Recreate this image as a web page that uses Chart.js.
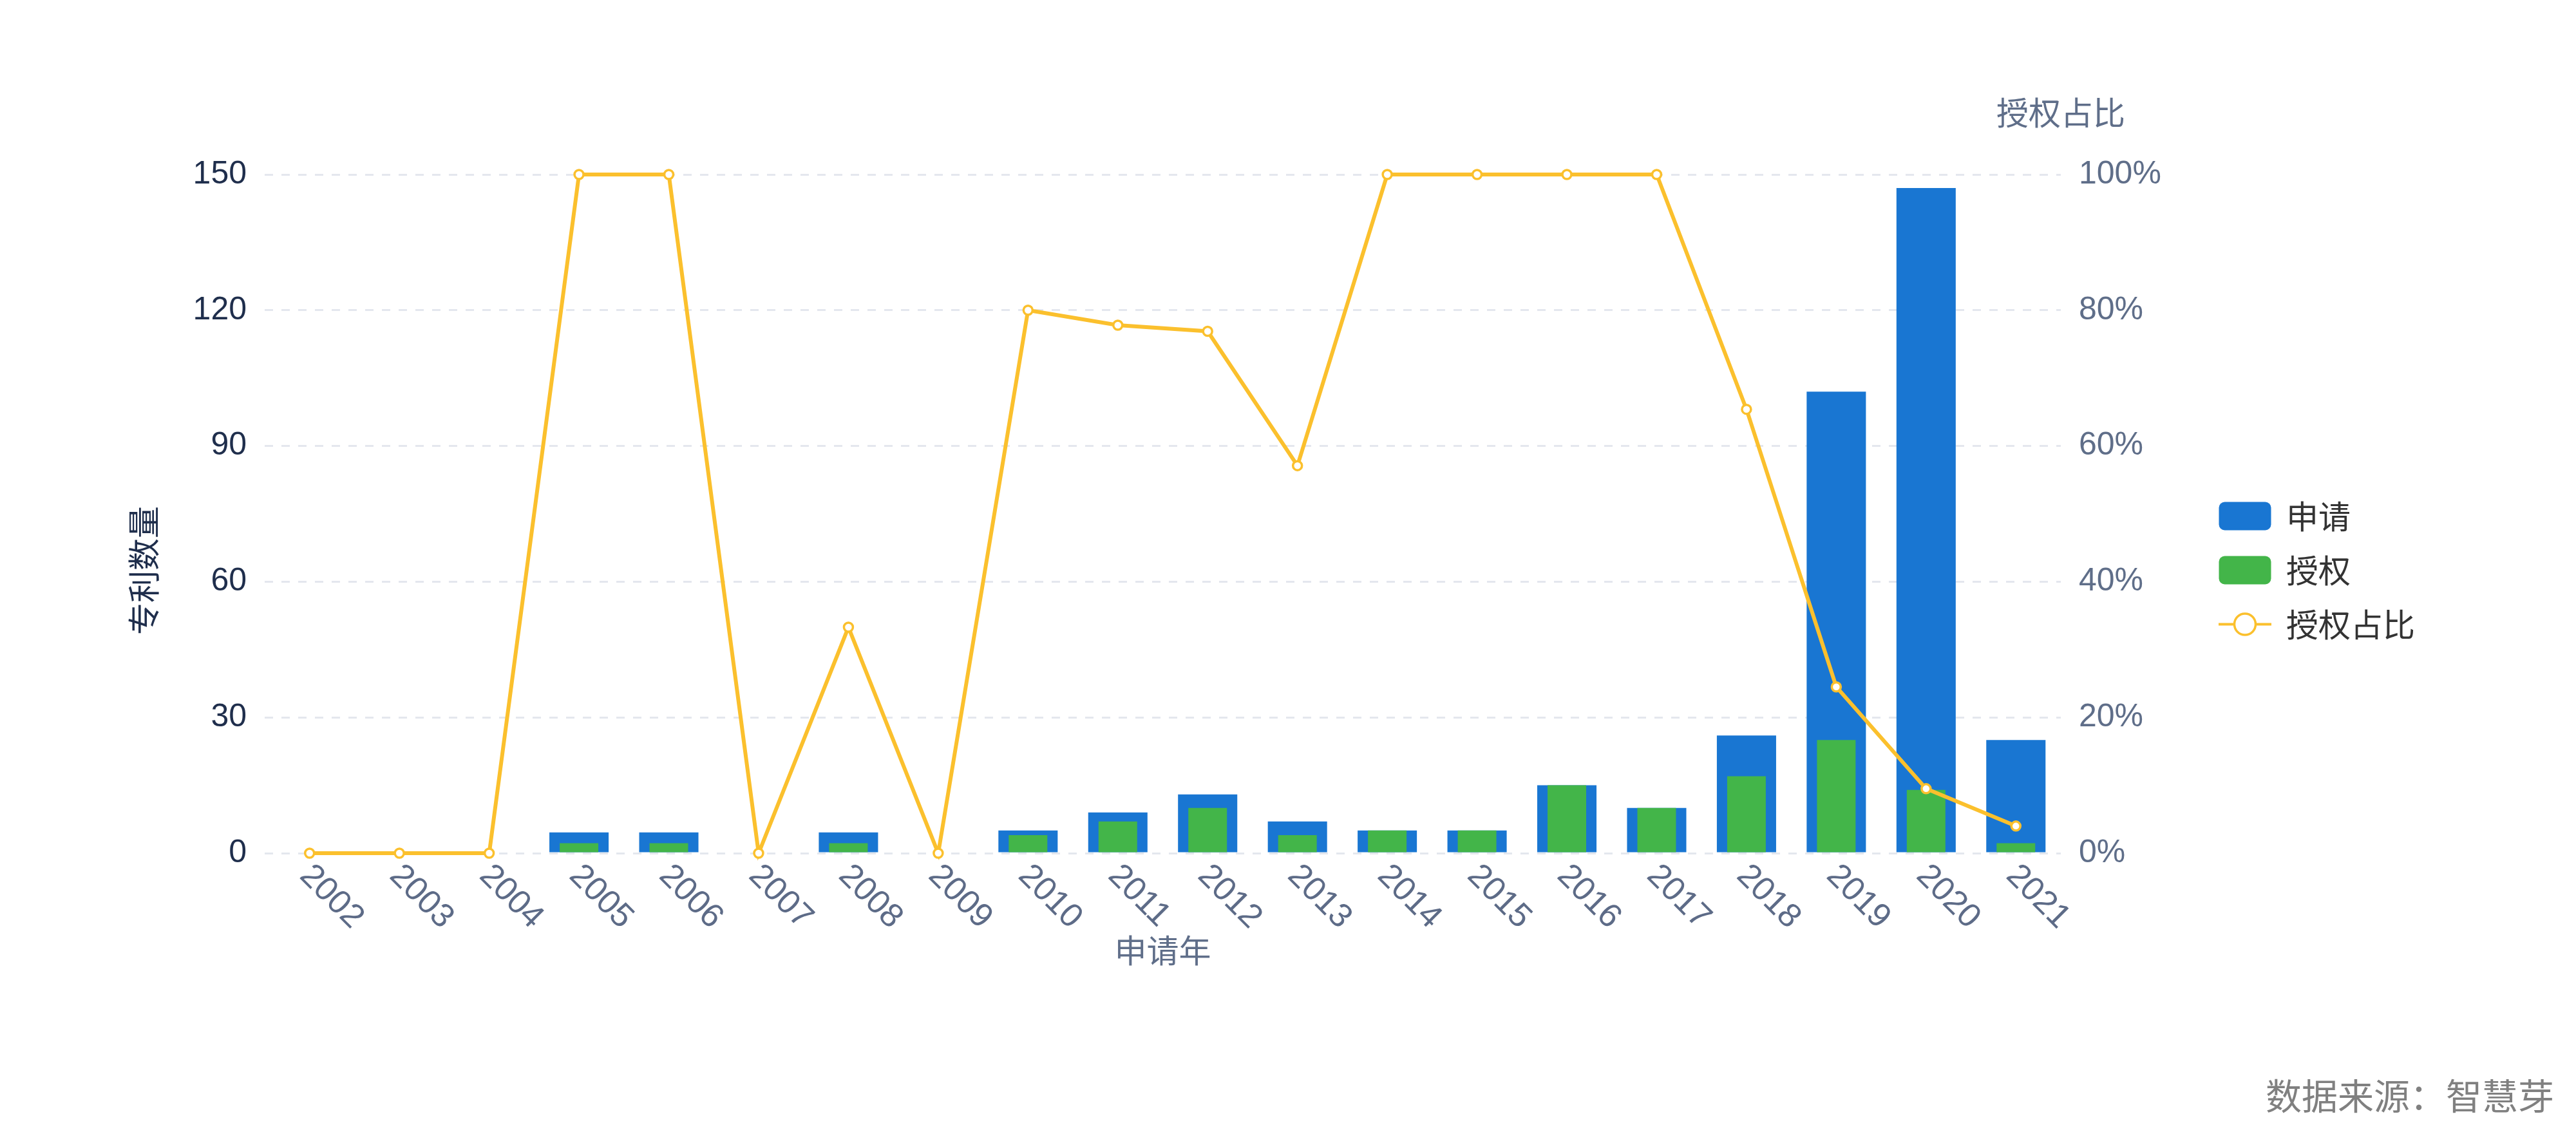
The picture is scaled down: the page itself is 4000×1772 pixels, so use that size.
<!DOCTYPE html>
<html>
<head>
<meta charset="utf-8">
<script src="https://cdn.jsdelivr.net/npm/chart.js@4.4.1/dist/chart.umd.min.js"></script>
<style>
  html, body { margin: 0; padding: 0; background: #ffffff; }
  #wrap { width: 4000px; height: 1772px; position: relative; }
</style>
</head>
<body>
<div id="wrap"><canvas id="c"></canvas></div>
<script>
// ---- data ----
const years = ['2002','2003','2004','2005','2006','2007','2008','2009','2010','2011','2012','2013','2014','2015','2016','2017','2018','2019','2020','2021'];
const applications = [0, 0, 0, 4.6, 4.6, 0, 4.6, 0, 5, 9, 13, 7, 5, 5, 15, 10, 26, 102, 147, 25];
const grants       = [0, 0, 0, 2.2, 2.2, 0, 2.2, 0, 4, 7, 10, 4, 5, 5, 15, 10, 17, 25, 14, 2.2];
const grantRatio   = [0, 0, 0, 100, 100, 0, 33.3, 0, 80, 77.8, 76.9, 57.1, 100, 100, 100, 100, 65.4, 24.5, 9.5, 4];
const leftTicks = [0, 30, 60, 90, 120, 150];
const rightTicks = [0, 20, 40, 60, 80, 100];
const seriesNames = ['申请', '授权', '授权占比'];
const axisTitles = { left: '专利数量', right: '授权占比', bottom: '申请年' };
const sourceText = '数据来源：智慧芽';

// ---- styles ----
const BLUE = '#1976d2';
const GREEN = '#43b549';
const YELLOW = '#fbc02d';
const FONT = '"Liberation Sans", "Noto Sans CJK SC", sans-serif';
const CJK = '"Noto Sans CJK SC", "Liberation Sans", sans-serif';

Chart.defaults.font.family = FONT;

function rectIcon(color) {
  const c = document.createElement('canvas');
  c.width = 82; c.height = 45;
  const g = c.getContext('2d');
  g.fillStyle = color;
  g.beginPath();
  g.roundRect(0.5, 0.5, 81, 44, 9);
  g.fill();
  return c;
}
function lineIcon(color) {
  const c = document.createElement('canvas');
  c.width = 82; c.height = 45;
  const g = c.getContext('2d');
  g.strokeStyle = color;
  g.lineWidth = 4;
  g.beginPath(); g.moveTo(0, 22.5); g.lineTo(82, 22.5); g.stroke();
  g.beginPath(); g.arc(41, 22.5, 16.5, 0, Math.PI * 2);
  g.fillStyle = '#ffffff'; g.fill();
  g.lineWidth = 3.5; g.stroke();
  return c;
}
const icons = [rectIcon(BLUE), rectIcon(GREEN), lineIcon(YELLOW)];

const extraText = {
  id: 'extraText',
  afterDraw(chart) {
    const ctx = chart.ctx;
    const x = chart.scales.x;
    const ca = chart.chartArea;
    ctx.save();
    // rotated category labels
    ctx.font = '52px ' + FONT;
    ctx.fillStyle = '#5d6b87';
    ctx.textAlign = 'left';
    ctx.textBaseline = 'middle';
    years.forEach((y, i) => {
      const px = x.getPixelForValue(i);
      ctx.save();
      ctx.translate(px - 7, ca.bottom + 27);
      ctx.rotate(Math.PI / 4);
      ctx.fillText(y, 0, 0);
      ctx.restore();
    });
    // bottom axis title
    ctx.font = '50px ' + CJK;
    ctx.fillStyle = '#5f6e89';
    ctx.textAlign = 'center';
    ctx.fillText(axisTitles.bottom, (ca.left + ca.right) / 2, ca.bottom + 151);
    // right axis title
    ctx.fillText(axisTitles.right, ca.right, ca.top - 96);
    // left axis title
    ctx.save();
    ctx.fillStyle = '#1f2e4c';
    ctx.translate(223, chart.height / 2);
    ctx.rotate(-Math.PI / 2);
    ctx.fillText(axisTitles.left, 0, 0);
    ctx.restore();
    // source
    ctx.font = '56px ' + CJK;
    ctx.fillStyle = '#808080';
    ctx.textAlign = 'right';
    ctx.fillText(sourceText, chart.width - 34, 1702);
    ctx.restore();
  }
};

new Chart(document.getElementById('c'), {
  type: 'bar',
  data: {
    labels: years,
    datasets: [
      { label: seriesNames[0], data: applications, backgroundColor: BLUE, yAxisID: 'y', order: 2,
        grouped: false, barPercentage: 0.66, categoryPercentage: 1 },
      { label: seriesNames[1], data: grants, backgroundColor: GREEN, yAxisID: 'y', order: 1,
        grouped: false, barPercentage: 0.43, categoryPercentage: 1 },
      { type: 'line', label: seriesNames[2], data: grantRatio, yAxisID: 'y1', order: 0,
        borderColor: YELLOW, borderWidth: 6, backgroundColor: '#ffffff',
        pointRadius: 7, pointBorderWidth: 3.5, pointBackgroundColor: '#ffffff', pointBorderColor: YELLOW,
        tension: 0, clip: false }
    ]
  },
  options: {
    responsive: true,
    maintainAspectRatio: false,
    animation: false,
    devicePixelRatio: 1,
    layout: { padding: { top: 271, bottom: 272, left: 0, right: 240 } },
    plugins: {
      tooltip: { enabled: false },
      legend: {
        position: 'right',
        align: 'center',
        labels: {
          usePointStyle: true,
          pointStyleWidth: 78,
          boxHeight: 44,
          padding: 34,
          color: '#333333',
          font: { size: 50, family: CJK },
          sort: (a, b) => a.datasetIndex - b.datasetIndex,
          generateLabels(chart) {
            const items = Chart.defaults.plugins.legend.labels.generateLabels(chart);
            items.forEach(it => { it.pointStyle = icons[it.datasetIndex]; });
            return items;
          }
        }
      }
    },
    scales: {
      x: {
        offset: true,
        grid: { display: false, drawOnChartArea: false, drawTicks: false },
        border: { display: false },
        ticks: { display: false },
        afterFit(scale) { scale.height = 175; }
      },
      y: {
        position: 'left',
        min: 0, max: 150,
        afterBuildTicks(scale) { scale.ticks = leftTicks.map(v => ({ value: v })); },
        ticks: { padding: 28, color: '#1f2e4c', font: { size: 50 } },
        grid: { color: '#e4e7ee', lineWidth: 3, drawTicks: false },
        border: { display: false, dash: [13, 13] },
        afterFit(scale) { scale.width = 411; }
      },
      y1: {
        position: 'right',
        min: 0, max: 100,
        afterBuildTicks(scale) { scale.ticks = rightTicks.map(v => ({ value: v })); },
        ticks: { padding: 28, color: '#5f6e89', font: { size: 50 }, callback: v => v + '%' },
        grid: { drawOnChartArea: false, drawTicks: false },
        border: { display: false },
        afterFit(scale) { scale.width = 213; }
      }
    }
  },
  plugins: [extraText]
});
</script>
</body>
</html>
